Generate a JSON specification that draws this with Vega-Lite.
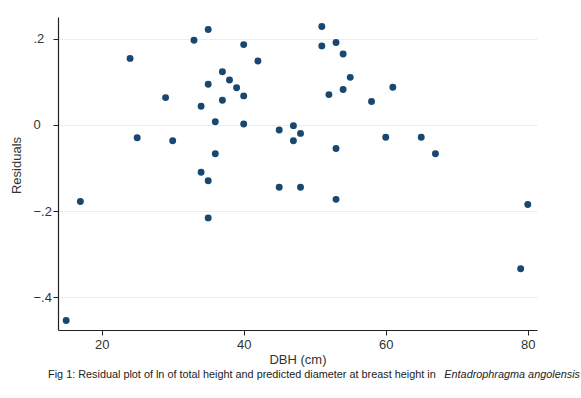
{
  "$schema": "https://vega.github.io/schema/vega-lite/v6.json",
  "width": 479,
  "height": 313,
  "autosize": {"type": "none"},
  "padding": {"left": 58, "top": 17, "right": 44, "bottom": 68},
  "background": "white",
  "config": {
    "view": {"stroke": null},
    "font": "Liberation Sans"
  },
  "layer": [
    {
      "data": {
        "values": [
          {"dbh": 24, "resid": 0.154},
          {"dbh": 33, "resid": 0.196},
          {"dbh": 35, "resid": 0.221},
          {"dbh": 40, "resid": 0.186},
          {"dbh": 42, "resid": 0.148},
          {"dbh": 37, "resid": 0.123},
          {"dbh": 38, "resid": 0.104},
          {"dbh": 35, "resid": 0.094},
          {"dbh": 39, "resid": 0.086},
          {"dbh": 29, "resid": 0.063},
          {"dbh": 37, "resid": 0.057},
          {"dbh": 40, "resid": 0.067},
          {"dbh": 34, "resid": 0.043},
          {"dbh": 36, "resid": 0.007},
          {"dbh": 40, "resid": 0.002},
          {"dbh": 45, "resid": -0.012},
          {"dbh": 47, "resid": -0.002},
          {"dbh": 48, "resid": -0.020},
          {"dbh": 47, "resid": -0.037},
          {"dbh": 25, "resid": -0.030},
          {"dbh": 30, "resid": -0.037},
          {"dbh": 36, "resid": -0.067},
          {"dbh": 34, "resid": -0.110},
          {"dbh": 35, "resid": -0.130},
          {"dbh": 45, "resid": -0.145},
          {"dbh": 48, "resid": -0.145},
          {"dbh": 17, "resid": -0.178},
          {"dbh": 51, "resid": 0.228},
          {"dbh": 51, "resid": 0.183},
          {"dbh": 53, "resid": 0.191},
          {"dbh": 54, "resid": 0.164},
          {"dbh": 55, "resid": 0.110},
          {"dbh": 54, "resid": 0.082},
          {"dbh": 52, "resid": 0.070},
          {"dbh": 61, "resid": 0.087},
          {"dbh": 58, "resid": 0.054},
          {"dbh": 60, "resid": -0.029},
          {"dbh": 65, "resid": -0.029},
          {"dbh": 67, "resid": -0.067},
          {"dbh": 53, "resid": -0.055},
          {"dbh": 53, "resid": -0.173},
          {"dbh": 80, "resid": -0.185},
          {"dbh": 79, "resid": -0.334},
          {"dbh": 35, "resid": -0.216},
          {"dbh": 15, "resid": -0.454}
        ]
      },
      "mark": {"type": "point", "filled": true, "size": 48, "opacity": 1, "color": "#1a476f"},
      "encoding": {
        "x": {
          "field": "dbh",
          "type": "quantitative",
          "scale": {"domain": [13.85, 81.3], "nice": false, "zero": false},
          "axis": {
            "title": "DBH (cm)",
            "values": [20, 40, 60, 80],
            "grid": false,
            "domainColor": "#222222",
            "domainWidth": 1.2,
            "tickColor": "#222222",
            "tickSize": 5,
            "labelPadding": 3,
            "labelFontSize": 13,
            "labelColor": "#333333",
            "titleFontSize": 13,
            "titleFontWeight": "normal",
            "titleColor": "#333333",
            "titleY": 29,
            "titleBaseline": "middle",
            "labelFont": "Liberation Sans",
            "titleFont": "Liberation Sans"
          }
        },
        "y": {
          "field": "resid",
          "type": "quantitative",
          "scale": {"domain": [-0.476, 0.25], "nice": false, "zero": false},
          "axis": {
            "title": "Residuals",
            "values": [-0.4, -0.2, 0, 0.2],
            "labelExpr": "datum.value == 0 ? '0' : replace(format(datum.value, '.1f'), '0.', '.')",
            "grid": true,
            "gridColor": "#e6eff1",
            "gridWidth": 1,
            "domainColor": "#222222",
            "domainWidth": 1.2,
            "tickColor": "#222222",
            "tickSize": 5,
            "labelAlign": "left",
            "labelPadding": 20,
            "labelFontSize": 13,
            "labelColor": "#333333",
            "titleFontSize": 13,
            "titleFontWeight": "normal",
            "titleColor": "#333333",
            "titleX": -35,
            "titleY": 148,
            "titleAngle": -90,
            "titleBaseline": "bottom",
            "labelFont": "Liberation Sans",
            "titleFont": "Liberation Sans"
          }
        }
      }
    },
    {
      "data": {"values": [{"t": "Fig 1: Residual plot of ln of total height and predicted diameter at breast height in "}]},
      "mark": {"type": "text", "align": "left", "baseline": "middle", "fontSize": 10.85, "color": "#222222", "clip": false, "font": "Liberation Sans"},
      "encoding": {
        "text": {"field": "t"},
        "x": {"datum": 12.45, "type": "quantitative"},
        "y": {"datum": -0.5805, "type": "quantitative"}
      }
    },
    {
      "data": {"values": [{"t": "Entadrophragma angolensis"}]},
      "mark": {"type": "text", "align": "right", "baseline": "middle", "fontSize": 10.85, "fontStyle": "italic", "color": "#222222", "clip": false, "font": "Liberation Sans"},
      "encoding": {
        "text": {"field": "t"},
        "x": {"datum": 87.35, "type": "quantitative"},
        "y": {"datum": -0.5805, "type": "quantitative"}
      }
    }
  ]
}
